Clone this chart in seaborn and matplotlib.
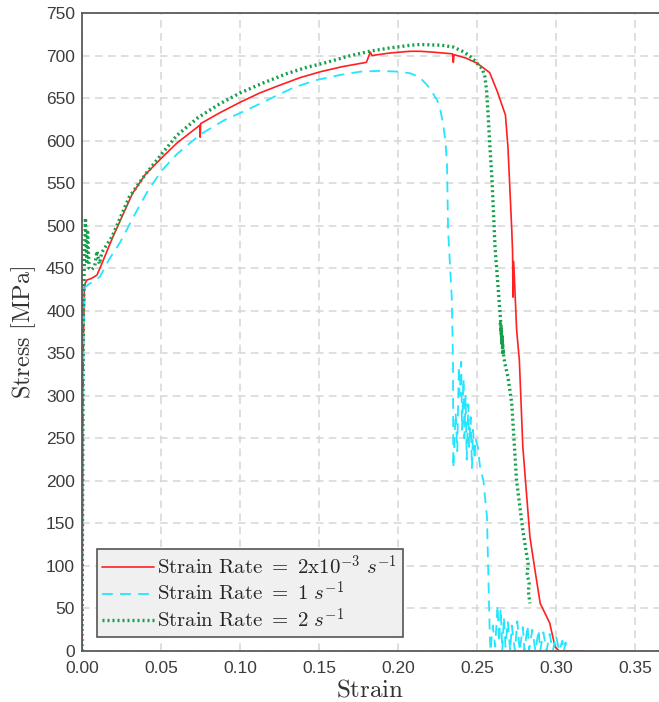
import numpy as np
import pandas as pd
import matplotlib
matplotlib.use("Agg")
import matplotlib.pyplot as plt
import seaborn as sns

# ---- data ----
red_strain = [0, 0.0003, 0.0008, 0.0015, 0.003, 0.006, 0.0095, 0.0127, 0.0196, 0.032,
              0.040, 0.0506, 0.060, 0.0745, 0.0748, 0.0751, 0.0875, 0.1, 0.1125, 0.125,
              0.138, 0.151, 0.165, 0.180, 0.1825, 0.1835, 0.195,
              0.2076, 0.214, 0.222, 0.2345, 0.235, 0.2355, 0.243, 0.25, 0.258, 0.263, 0.268, 0.2696,
              0.272, 0.2725, 0.2728, 0.2732, 0.2751, 0.2768, 0.279, 0.2835, 0.2867, 0.290,
              0.296, 0.2994, 0.302, 0.318]
red_stress = [0, 150, 350, 430, 436, 438, 442, 456, 487, 538,
              560, 580, 597, 618, 604, 620, 633, 645, 656, 665,
              674, 681, 687, 692, 704, 700, 703,
              705, 705, 704, 702, 692, 701, 697, 691, 680, 657, 630, 592,
              495, 470, 416, 458, 377, 342, 240, 134, 95, 56,
              33, 5, 0, 0]

cyan_strain = [0, 0.0005, 0.001, 0.002, 0.005, 0.0114, 0.017, 0.024, 0.0348, 0.042,
               0.0506, 0.060, 0.0747, 0.090, 0.1044, 0.120, 0.1335, 0.148, 0.163, 0.176,
               0.1886, 0.201, 0.208, 0.214, 0.219, 0.2247, 0.2268, 0.2285, 0.2300, 0.231,
               0.2317, 0.234, 0.2348, 0.235, 0.2365, 0.2375, 0.2385, 0.239, 0.240, 0.2405,
               0.2415, 0.242, 0.2428, 0.2435, 0.2445, 0.245, 0.246, 0.2468, 0.2475, 0.2485,
               0.249, 0.2505, 0.252, 0.254, 0.2563, 0.257, 0.258, 0.2585,
               0.260, 0.2615, 0.263, 0.264, 0.265, 0.266, 0.267, 0.268, 0.2695, 0.271,
               0.272, 0.274, 0.2755, 0.277, 0.279, 0.280, 0.282, 0.283, 0.285, 0.287,
               0.289, 0.290, 0.292, 0.294, 0.296, 0.298, 0.300, 0.302, 0.304, 0.305,
               0.306, 0.307]
cyan_stress = [0, 200, 380, 428, 432, 440, 460, 480, 518, 542,
               565, 584, 607, 624, 636, 650, 662, 671, 677, 681,
               682, 681, 679, 674, 664, 648, 636, 620, 600, 573,
               495, 416, 342, 215, 280, 235, 335, 300, 340, 260,
               320, 250, 300, 225, 290, 240, 275, 215, 260, 225,
               250, 240, 215, 201, 158, 103, 25, 0,
               30, 5, 54, 10, 50, 0, 40, 5, 35, 0,
               30, 0, 35, 0, 28, 0, 30, 0, 25, 0,
               25, 0, 22, 0, 20, 0, 18, 0, 12, 0,
               10, 0]

green_strain = [0, 0.0004, 0.0008, 0.0015, 0.0022, 0.003, 0.0035, 0.0045, 0.006, 0.008,
                0.0095, 0.011, 0.0127, 0.019, 0.030, 0.040, 0.049, 0.060, 0.0734, 0.087,
                0.100, 0.115, 0.130, 0.142, 0.155, 0.168, 0.182, 0.195, 0.2076, 0.214,
                0.228, 0.235, 0.242, 0.247, 0.25, 0.2535, 0.255, 0.256, 0.257, 0.258, 0.2595,
                0.2614, 0.2646, 0.2655, 0.2648, 0.266, 0.2652, 0.2665, 0.2658, 0.267, 0.268,
                0.2696, 0.272, 0.275, 0.279, 0.2823, 0.2818, 0.283, 0.2825, 0.2835]
green_stress = [0, 200, 380, 460, 509, 455, 495, 450, 448, 452,
                470, 455, 469, 487, 534, 560, 581, 606, 627, 643,
                656, 668, 679, 686, 692, 699, 705, 709, 712, 713,
                712, 710, 704, 697, 691, 684, 675, 660, 632, 598, 554,
                475, 397, 375, 385, 360, 378, 348, 370, 345, 335,
                322, 291, 201, 142, 103, 90, 80, 70, 56]

labels = [r'$\mathrm{Strain\ Rate\ =\ 2x10}^{-3}\ s^{-1}$',
          r'$\mathrm{Strain\ Rate\ =\ 1}\ s^{-1}$',
          r'$\mathrm{Strain\ Rate\ =\ 2}\ s^{-1}$']
x_ticks = [0.00, 0.05, 0.10, 0.15, 0.20, 0.25, 0.30, 0.35]
y_ticks = list(range(0, 751, 50))

# ---- styling ----
sns.set_style("white")
plt.rcParams['font.family'] = ['Liberation Sans', 'DejaVu Sans']
plt.rcParams['mathtext.fontset'] = 'cm'

fig = plt.figure(figsize=(6.59, 7.02), dpi=100)
ax = fig.add_axes([82/659, 1 - 651/702, 1 - 82/659, (651 - 13)/702])

df_r = pd.DataFrame({"strain": red_strain, "stress": red_stress})
df_c = pd.DataFrame({"strain": cyan_strain, "stress": cyan_stress})
df_g = pd.DataFrame({"strain": green_strain, "stress": green_stress})

sns.lineplot(data=df_r, x="strain", y="stress", sort=False, estimator=None, ax=ax,
             color="#ff2020", lw=1.2, label=labels[0])
sns.lineplot(data=df_c, x="strain", y="stress", sort=False, estimator=None, ax=ax,
             color="#22e6ff", lw=1.3, label=labels[1])
ax.lines[-1].set_linestyle((0, (6, 4)))
sns.lineplot(data=df_g, x="strain", y="stress", sort=False, estimator=None, ax=ax,
             color="#12a04a", lw=2.4, label=labels[2])
ax.lines[-1].set_linestyle((0, (0.6, 0.9)))

ax.set_xlim(0, (659 - 82) / 1580)
ax.set_ylim(0, 750)
ax.set_xticks(x_ticks)
ax.set_xticklabels([f"{t:.2f}" for t in x_ticks])
ax.set_yticks(y_ticks)
ax.set_yticklabels([str(t) for t in y_ticks])

ax.grid(True, color="#d6d6d6", lw=1.1, linestyle=(0, (5, 3.5)))
ax.set_axisbelow(True)
for s in ["left", "bottom", "top"]:
    ax.spines[s].set_color("#5a5a5a")
    ax.spines[s].set_linewidth(1.3)
ax.spines["right"].set_visible(False)
ax.tick_params(axis="both", direction="in", length=4, width=1, color="#333333",
               labelsize=12.5, labelcolor="#3c3c3c")
ax.tick_params(axis="x", pad=7)
ax.tick_params(axis="y", pad=5)

ax.set_xlabel(r"$\mathrm{Strain}$", fontsize=18, color="#333333", labelpad=1)
ax.set_ylabel(r"$\mathrm{Stress\ [MPa]}$", fontsize=17.5, color="#333333", labelpad=6)

leg = ax.legend(loc="lower left", bbox_to_anchor=(0.026, 0.022), borderaxespad=0,
                fontsize=15, frameon=True, fancybox=False, handlelength=2.5,
                handletextpad=0.15, borderpad=0.25, labelspacing=0.12)
leg.get_frame().set_facecolor("#f0f0f0")
leg.get_frame().set_edgecolor("#555555")
leg.get_frame().set_linewidth(1.2)
leg.get_frame().set_alpha(1)

fig.savefig("out.png", dpi=100)
